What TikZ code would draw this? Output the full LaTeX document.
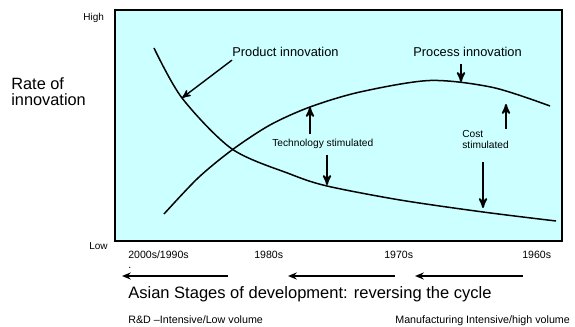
\documentclass[tikz,border=0pt]{standalone}
\usepackage{fontspec}
\setmainfont{Liberation Sans}
\usetikzlibrary{positioning, arrows, arrows.meta}
\definecolor{chartfill}{RGB}{204,255,255}
\tikzset{
x=0.02cm, y=-0.02cm, % one unit is one pixel of the layout, y grows downwards
>=stealth', % solid arrow heads
chart/.style={draw, line width=1.1pt, fill=chartfill}, % the plot area
curve/.style={line width=0.85pt}, % the two innovation curves
pointer/.style={->, line width=1pt}, % arrows from the labels to the curves
stage/.style={-{Stealth[length=5pt, width=4pt]}, line width=1.7pt}, % arrows under the time axis
txt/.style={inner xsep=0pt, inner ysep=0pt, anchor=base west}, % texts sit on their baseline
axisword/.style={txt, font=\fontsize{5.7}{7}\selectfont},
yearlbl/.style={txt, font=\fontsize{6}{7}\selectfont},
curvelbl/.style={txt, font=\fontsize{7.3}{9}\selectfont},
causelbl/.style={txt, font=\fontsize{5.8}{7}\selectfont},
notelbl/.style={txt, font=\fontsize{6.1}{7}\selectfont},
bigtxt/.style={txt, font=\fontsize{9.3}{11}\selectfont},
}

\begin{document}
\begin{tikzpicture}
\useasboundingbox (0,0) rectangle (575,327);
\draw[chart] (115,10) rectangle (562,241);

% product and process curves
\draw[curve] plot[smooth] coordinates {(154,48) (182,98) (232,149) (290,174) (327,186) (400,200) (483,212) (556,221)};
\draw[curve] plot[smooth] coordinates {(164,214) (198,178) (232,150) (270,125) (310,107) (360,92) (430,80.5) (493,87.5) (550,106)};

\coordinate (prodtip) at (182,98);
\coordinate (proctip) at (461,82);
\coordinate (techup) at (310,107);
\coordinate (techdown) at (327,185);
\coordinate (costup) at (506,104);
\coordinate (costdown) at (483,208);

% axis words
\node[axisword] (high) at (83,20.5) {High};
\node[axisword] (low) at (89,250) {Low};
\node[bigtxt] (rate) at (11,90) {Rate of};
\node[bigtxt] (rate2) at (11,106) {innovation};

% labels in the chart
\node[curvelbl, inner ysep=1.5pt] (prod) at (232,57) {Product innovation};
\node[curvelbl, inner ysep=4pt] (proc) at (413,57) {Process innovation};
\node[causelbl, inner ysep=3pt] (tech) at (272,147) {Technology stimulated};
\node[causelbl, inner ysep=1pt] (cost) at (462,138) {Cost};
\node[causelbl, inner ysep=7.4pt] (costb) at (462,149) {stimulated};

\draw[pointer, line width=0.8pt] (prod.south west) -- (prodtip);
\draw[pointer] (proc.south -| proctip) -- (proctip);
\draw[pointer] (tech.north -| techup) -- (techup);
\draw[pointer] (tech.south -| techdown) -- (techdown);
\draw[pointer] (cost.north -| costup) -- (costup);
\draw[pointer] (costb.south -| costdown) -- (costdown);

% time axis
\node[yearlbl] (y2000) at (128,259) {2000s/1990s};
\node[yearlbl] (y1980) at (254,259) {1980s};
\node[yearlbl] (y1970) at (384,259) {1970s};
\node[yearlbl] (y1960) at (522,259) {1960s};
\node[yearlbl] (dot) at (128,269) {.};
\foreach \a/\b in {228/122, 395/288, 523/415}
  \draw[stage] (\a,276) -- (\b,276);

\node[bigtxt, font=\fontsize{9.4}{11}\selectfont] (asian) at (128,299) {Asian Stages of development: reversing the cycle};
\node[notelbl] (rnd) at (128,324) {R\&D –Intensive/Low volume};
\node[notelbl] (manu) at (395,324) {Manufacturing Intensive/high volume};
\end{tikzpicture}
\end{document}
